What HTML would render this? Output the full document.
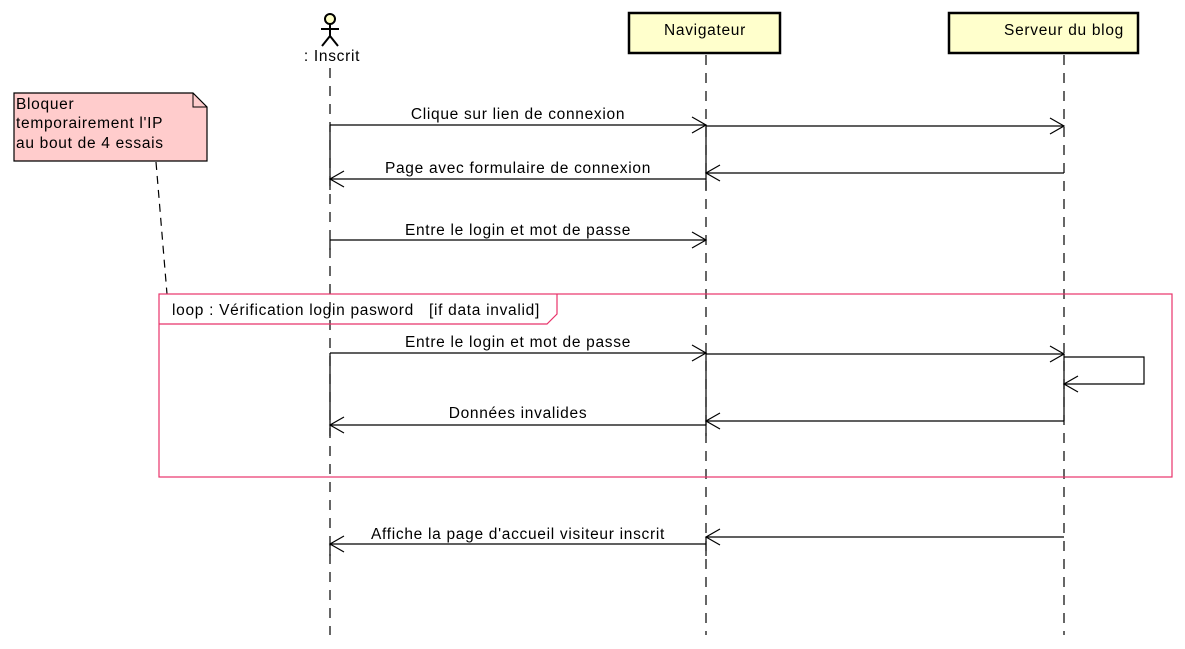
<!DOCTYPE html>
<html><head><meta charset="utf-8"><style>
html,body{margin:0;padding:0;background:#fff;}
svg{display:block;}
text{font-family:"Liberation Sans","DejaVu Sans",sans-serif;font-size:15.5px;letter-spacing:0.7px;fill:#000;white-space:pre;}
</style></head><body>
<svg width="1185" height="649" viewBox="0 0 1185 649" xmlns="http://www.w3.org/2000/svg" xml:space="preserve">
<g stroke="#000" stroke-width="1.2" fill="none">
<line x1="330" y1="68" x2="330" y2="635" stroke-dasharray="10,8"/>
<line x1="706" y1="55" x2="706" y2="635" stroke-dasharray="10,8"/>
<line x1="1064" y1="55" x2="1064" y2="635" stroke-dasharray="10,8"/>
<line x1="330" y1="125" x2="330" y2="190"/>
<line x1="330" y1="240" x2="330" y2="250"/>
<line x1="330" y1="353" x2="330" y2="436"/>
<line x1="330" y1="544" x2="330" y2="556"/>
<line x1="706" y1="125" x2="706" y2="190"/>
<line x1="706" y1="353" x2="706" y2="436"/>
<line x1="706" y1="537" x2="706" y2="556"/>
<line x1="1064" y1="354" x2="1064" y2="421"/>
</g>
<circle cx="330" cy="19" r="5" fill="#ffffc8" stroke="#000" stroke-width="2"/>
<g stroke="#000" stroke-width="2" fill="none">
<line x1="330" y1="24" x2="330" y2="36"/>
<line x1="321" y1="29" x2="339" y2="29"/>
<polyline points="322,46 330,36 338,46"/>
</g>
<text x="332" y="61" text-anchor="middle">: Inscrit</text>
<rect x="629" y="13" width="151" height="40" fill="#ffffcc" stroke="#000" stroke-width="2.5"/>
<text x="705" y="35" text-anchor="middle">Navigateur</text>
<rect x="949" y="13" width="189" height="40" fill="#ffffcc" stroke="#000" stroke-width="2.5"/>
<text x="1064" y="35" text-anchor="middle">Serveur du blog</text>
<path d="M14,93 H193 L207,107 V161 H14 Z" fill="#ffcccc" stroke="#000" stroke-width="1.2"/>
<path d="M193,93 V107 H207" fill="none" stroke="#000" stroke-width="1"/>
<text x="16" y="109">Bloquer</text>
<text x="16" y="128">temporairement l'IP</text>
<text x="16" y="148">au bout de 4 essais</text>
<line x1="156" y1="162" x2="167" y2="294" stroke="#000" stroke-width="1.2" stroke-dasharray="8,6"/>
<rect x="159" y="294" width="1013" height="183" fill="none" stroke="#e8336a" stroke-width="1.2"/>
<path d="M159,324 H547 L557,314 V294" fill="none" stroke="#e8336a" stroke-width="1.2"/>
<text x="172" y="315">loop : Vérification login pasword   [if data invalid]</text>
<g stroke="#000" stroke-width="1.2" fill="none">
<line x1="330" y1="125" x2="706" y2="125"/><polyline points="692,117 706,125 692,133"/>
<line x1="706" y1="126" x2="1064" y2="126"/><polyline points="1050,118 1064,126 1050,134"/>
<line x1="1064" y1="173" x2="706" y2="173"/><polyline points="720,165 706,173 720,181"/>
<line x1="706" y1="179" x2="330" y2="179"/><polyline points="344,171 330,179 344,187"/>
<line x1="330" y1="240" x2="706" y2="240"/><polyline points="692,232 706,240 692,248"/>
<line x1="330" y1="353" x2="706" y2="353"/><polyline points="692,345 706,353 692,361"/>
<line x1="706" y1="354" x2="1064" y2="354"/><polyline points="1050,346 1064,354 1050,362"/>
<polyline points="1064,357 1144,357 1144,384 1064,384"/><polyline points="1078,376 1064,384 1078,392"/>
<line x1="1064" y1="421" x2="706" y2="421"/><polyline points="720,413 706,421 720,429"/>
<line x1="706" y1="425" x2="330" y2="425"/><polyline points="344,417 330,425 344,433"/>
<line x1="1064" y1="537" x2="706" y2="537"/><polyline points="720,529 706,537 720,545"/>
<line x1="706" y1="544" x2="330" y2="544"/><polyline points="344,536 330,544 344,552"/>
</g>
<text x="518" y="119" text-anchor="middle">Clique sur lien de connexion</text>
<text x="518" y="173" text-anchor="middle">Page avec formulaire de connexion</text>
<text x="518" y="235" text-anchor="middle">Entre le login et mot de passe</text>
<text x="518" y="347" text-anchor="middle">Entre le login et mot de passe</text>
<text x="518" y="418" text-anchor="middle">Données invalides</text>
<text x="518" y="539" text-anchor="middle">Affiche la page d'accueil visiteur inscrit</text>
</svg>
</body></html>
